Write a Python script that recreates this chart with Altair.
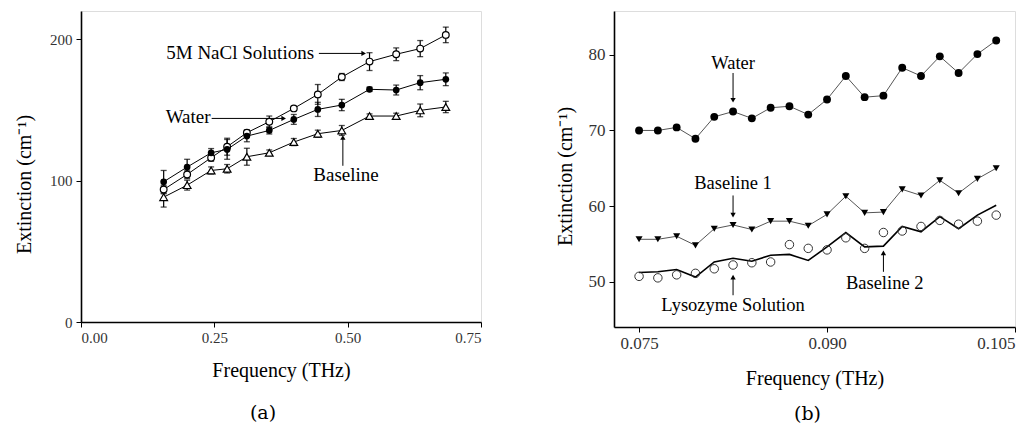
import altair as alt
import pandas as pd

# ---------------- Panel (a) data ----------------
a_freq = [0.155, 0.199, 0.244, 0.274, 0.311, 0.353, 0.399, 0.444, 0.489, 0.541, 0.591, 0.636, 0.684]
a_nacl = [93.7, 104.4, 116.2, 124.0, 133.9, 141.7, 151.1, 161.0, 173.3, 184.2, 189.4, 193.4, 203.1]
a_nacl_err = [3.0, 3.0, 2.5, 6.0, 2.0, 4.0, 1.5, 7.0, 2.5, 6.3, 4.5, 5.7, 5.5]
a_water = [99.2, 109.6, 119.7, 122.1, 131.5, 135.5, 143.3, 150.4, 153.5, 164.6, 164.1, 169.3, 171.7]
a_water_err = [8.0, 5.5, 3.0, 7.0, 4.0, 2.5, 3.5, 5.0, 4.0, 1.5, 3.5, 5.0, 4.5]
a_base = [88.3, 96.8, 107.2, 108.4, 116.9, 119.7, 127.3, 133.2, 135.5, 145.7, 145.7, 149.7, 152.1]
a_base_err = [7.0, 3.5, 2.5, 3.0, 6.0, 2.0, 2.5, 2.5, 3.5, 1.5, 2.0, 4.5, 4.0]

a_label_text = ["5M NaCl Solutions", "Water", "Baseline"]
a_label_x = [0.437, 0.243, 0.497]
a_label_y = [190.5, 145.0, 104.0]
a_label_align = ["right", "right", "center"]
a_arrow_x1 = [0.446, 0.245, 0.491]
a_arrow_x2 = [0.530, 0.380, 0.491]
a_arrow_y1 = [190.0, 144.0, 110.5]
a_arrow_y2 = [190.0, 144.0, 130.5]
a_head_shape = ["triangle-right", "triangle-right", "triangle-up"]

# ---------------- Panel (b) data ----------------
b_freq = [0.0750, 0.0765, 0.0780, 0.0795, 0.0810, 0.0825, 0.0840, 0.0855, 0.0870, 0.0885,
          0.0900, 0.0915, 0.0930, 0.0945, 0.0960, 0.0975, 0.0990, 0.1005, 0.1020, 0.1035]
b_water = [70.0, 70.0, 70.4, 68.9, 71.8, 72.5, 71.6, 73.0, 73.2, 72.1,
           74.1, 77.2, 74.4, 74.6, 78.3, 77.2, 79.8, 77.6, 80.1, 81.9]
b_base1 = [55.6, 55.6, 56.0, 54.8, 57.0, 57.5, 56.9, 58.0, 58.0, 57.4,
           58.9, 61.3, 59.1, 59.2, 62.2, 61.4, 63.4, 61.7, 63.6, 65.0]
b_lyso = [50.7, 50.5, 50.9, 51.1, 51.7, 52.2, 52.5, 52.6, 54.9, 54.4,
          54.2, 55.8, 54.4, 56.5, 56.7, 57.3, 58.1, 57.6, 58.0, 58.8]
b_base2 = [51.2, 51.3, 51.6, 50.6, 52.6, 53.1, 52.7, 53.5, 53.6, 52.8,
           54.6, 56.5, 54.6, 54.7, 57.3, 56.6, 58.6, 57.0, 58.8, 60.1]

b_label_text = ["Water", "Baseline 1", "Lysozyme Solution", "Baseline 2"]
b_label_x = [0.0825, 0.0825, 0.0825, 0.0946]
b_label_y = [78.9, 63.0, 46.9, 49.8]
b_arrow_x = [0.0825, 0.0825, 0.0825, 0.0945]
b_arrow_y1 = [77.6, 61.4, 48.2, 51.3]
b_arrow_y2 = [74.0, 58.8, 50.6, 53.8]
b_head_shape = ["triangle-down", "triangle-down", "triangle-up", "triangle-up"]

SERIF = "Liberation Serif"

# ---------------- build tables ----------------
a_series = {"NaCl": (a_nacl, a_nacl_err), "Water": (a_water, a_water_err), "Baseline": (a_base, a_base_err)}
rows = []
for name, (vals, errs) in a_series.items():
    for f, v, e in zip(a_freq, vals, errs):
        rows.append({"series": name, "freq": f, "ext": v, "lo": v - e, "hi": v + e})
a_df = pd.DataFrame(rows)
a_caps = pd.concat([
    a_df[["series", "freq", "lo"]].rename(columns={"lo": "cap"}),
    a_df[["series", "freq", "hi"]].rename(columns={"hi": "cap"}),
])
a_lab = pd.DataFrame({"text": a_label_text, "x": a_label_x, "y": a_label_y, "align": a_label_align})
a_arr = pd.DataFrame({"x1": a_arrow_x1, "x2": a_arrow_x2, "y1": a_arrow_y1, "y2": a_arrow_y2, "shape": a_head_shape})

b_rows = []
for name, vals in {"Water": b_water, "Baseline 1": b_base1, "Lysozyme": b_lyso, "Baseline 2": b_base2}.items():
    for f, v in zip(b_freq, vals):
        b_rows.append({"series": name, "freq": f, "ext": v})
b_df = pd.DataFrame(b_rows)
b_lab = pd.DataFrame({"text": b_label_text, "x": b_label_x, "y": b_label_y})
b_arr = pd.DataFrame({"x1": b_arrow_x, "y1": b_arrow_y1, "y2": b_arrow_y2, "shape": b_head_shape})


def x_axis(values, fmt, label_size, title_y):
    return alt.Axis(values=values, format=fmt, title="Frequency (THz)", grid=False,
                    tickSize=5, tickColor="black", tickWidth=1,
                    domainColor="black", domainWidth=1.6,
                    labelFont=SERIF, labelFontSize=label_size, labelColor="#333", labelPadding=3,
                    titleFont=SERIF, titleFontSize=20, titleFontWeight="normal", titleColor="black",
                    titleY=title_y)


def y_axis(values, label_size, title_x, title_y):
    return alt.Axis(values=values, title="Extinction (cm\u207b\u00b9)", grid=False,
                    tickSize=5, tickColor="black", tickWidth=1,
                    domainColor="black", domainWidth=1.6,
                    labelFont=SERIF, labelFontSize=label_size, labelColor="#333", labelPadding=4,
                    titleFont=SERIF, titleFontSize=20, titleFontWeight="normal", titleColor="black",
                    titleX=title_x, titleY=title_y)


# ---------------- Panel (a) ----------------
ax_sc = alt.Scale(domain=[0, 0.75], nice=False, zero=False)
ay_sc = alt.Scale(domain=[0, 220], nice=False)
AX = alt.X("freq:Q", scale=ax_sc, axis=x_axis([0, 0.25, 0.5, 0.75], ".2f", 15, 38))
AY = alt.Y("ext:Q", scale=ay_sc, axis=y_axis([0, 100, 200], 15, -47, 173))

base_a = alt.Chart(a_df)
a_lines = base_a.mark_line(color="black", strokeWidth=1).encode(x=AX, y=AY, detail="series:N")
a_err = base_a.mark_rule(color="black", strokeWidth=1.2).encode(
    x=alt.X("freq:Q", scale=ax_sc), y=alt.Y("lo:Q", scale=ay_sc), y2="hi:Q")
a_cap = alt.Chart(a_caps).mark_tick(orient="horizontal", color="black", size=6, thickness=1.3).encode(
    x=alt.X("freq:Q", scale=ax_sc), y=alt.Y("cap:Q", scale=ay_sc))
a_pt_nacl = base_a.transform_filter(alt.datum.series == "NaCl").mark_point(
    shape="circle", size=45, fill="white", stroke="black", strokeWidth=1.2, opacity=1).encode(
    x=alt.X("freq:Q", scale=ax_sc), y=alt.Y("ext:Q", scale=ay_sc))
a_pt_water = base_a.transform_filter(alt.datum.series == "Water").mark_point(
    shape="circle", size=45, filled=True, fill="black", opacity=1).encode(
    x=alt.X("freq:Q", scale=ax_sc), y=alt.Y("ext:Q", scale=ay_sc))
a_pt_base = base_a.transform_filter(alt.datum.series == "Baseline").mark_point(
    shape="triangle-up", size=60, fill="white", stroke="black", strokeWidth=1.2, opacity=1).encode(
    x=alt.X("freq:Q", scale=ax_sc), y=alt.Y("ext:Q", scale=ay_sc))
a_arrows = alt.Chart(a_arr).mark_rule(color="black", strokeWidth=1).encode(
    x=alt.X("x1:Q", scale=ax_sc), x2="x2:Q", y=alt.Y("y1:Q", scale=ay_sc), y2="y2:Q")
a_heads = alt.Chart(a_arr).mark_point(filled=True, color="black", size=28, opacity=1).encode(
    x=alt.X("x2:Q", scale=ax_sc), y=alt.Y("y2:Q", scale=ay_sc),
    shape=alt.Shape("shape:N", scale=None))
a_text_r = alt.Chart(a_lab).transform_filter(alt.datum.align == "right").mark_text(
    font=SERIF, fontSize=19, align="right", baseline="middle", color="black").encode(
    x=alt.X("x:Q", scale=ax_sc), y=alt.Y("y:Q", scale=ay_sc), text="text:N")
a_text_c = alt.Chart(a_lab).transform_filter(alt.datum.align == "center").mark_text(
    font=SERIF, fontSize=19, align="center", baseline="middle", color="black").encode(
    x=alt.X("x:Q", scale=ax_sc), y=alt.Y("y:Q", scale=ay_sc), text="text:N")

panel_a = alt.layer(a_lines, a_err, a_cap, a_pt_nacl, a_pt_water, a_pt_base,
                    a_arrows, a_heads, a_text_r, a_text_c).properties(
    width=400, height=311,
    title=alt.TitleParams(text="(a)", orient="bottom", anchor="middle", frame="group",
                          dx=-18, offset=24, font="DejaVu Serif", fontSize=19,
                          fontWeight="normal", color="black"))

# ---------------- Panel (b) ----------------
bx_sc = alt.Scale(domain=[0.073, 0.105], nice=False, zero=False)
by_sc = alt.Scale(domain=[44, 85.8], nice=False, zero=False)
BX = alt.X("freq:Q", scale=bx_sc, axis=x_axis([0.075, 0.090, 0.105], ".3f", 17, 41))
BY = alt.Y("ext:Q", scale=by_sc, axis=y_axis([50, 60, 70, 80], 17, -39, 165))

base_b = alt.Chart(b_df)
b_line_grey = base_b.transform_filter(
    (alt.datum.series == "Water") | (alt.datum.series == "Baseline 1")).mark_line(
    color="#555", strokeWidth=1).encode(x=BX, y=BY, detail="series:N")
b_line_b2 = base_b.transform_filter(alt.datum.series == "Baseline 2").mark_line(
    color="black", strokeWidth=1.6).encode(x=alt.X("freq:Q", scale=bx_sc), y=alt.Y("ext:Q", scale=by_sc))
b_pt_water = base_b.transform_filter(alt.datum.series == "Water").mark_point(
    shape="circle", size=62, filled=True, color="black", opacity=1).encode(
    x=alt.X("freq:Q", scale=bx_sc), y=alt.Y("ext:Q", scale=by_sc))
b_pt_base1 = base_b.transform_filter(alt.datum.series == "Baseline 1").mark_point(
    shape="triangle-down", size=50, filled=True, color="black", opacity=1).encode(
    x=alt.X("freq:Q", scale=bx_sc), y=alt.Y("ext:Q", scale=by_sc))
b_pt_lyso = base_b.transform_filter(alt.datum.series == "Lysozyme").mark_point(
    shape="circle", size=72, filled=False, color="#333", strokeWidth=1, opacity=1).encode(
    x=alt.X("freq:Q", scale=bx_sc), y=alt.Y("ext:Q", scale=by_sc))
b_arrows = alt.Chart(b_arr).mark_rule(color="black", strokeWidth=1).encode(
    x=alt.X("x1:Q", scale=bx_sc), y=alt.Y("y1:Q", scale=by_sc), y2="y2:Q")
b_heads = alt.Chart(b_arr).mark_point(filled=True, color="black", size=28, opacity=1).encode(
    x=alt.X("x1:Q", scale=bx_sc), y=alt.Y("y2:Q", scale=by_sc),
    shape=alt.Shape("shape:N", scale=None))
b_text = alt.Chart(b_lab).mark_text(
    font=SERIF, fontSize=18.5, align="center", baseline="middle", color="black").encode(
    x=alt.X("x:Q", scale=bx_sc), y=alt.Y("y:Q", scale=by_sc), text="text:N")

panel_b = alt.layer(b_line_grey, b_line_b2, b_pt_water, b_pt_base1, b_pt_lyso,
                    b_arrows, b_heads, b_text).properties(
    width=401, height=316,
    title=alt.TitleParams(text="(b)", orient="bottom", anchor="middle", frame="group",
                          dx=-7, offset=17, font="DejaVu Serif", fontSize=19,
                          fontWeight="normal", color="black"))

chart = alt.hconcat(panel_a, panel_b, spacing=72).properties(
    padding={"left": 5, "top": 2, "right": 0, "bottom": 0}
).configure_view(stroke="#222", strokeWidth=1).configure(background="white")

chart.save("out.html", embed_options={"renderer": "svg", "actions": False})
